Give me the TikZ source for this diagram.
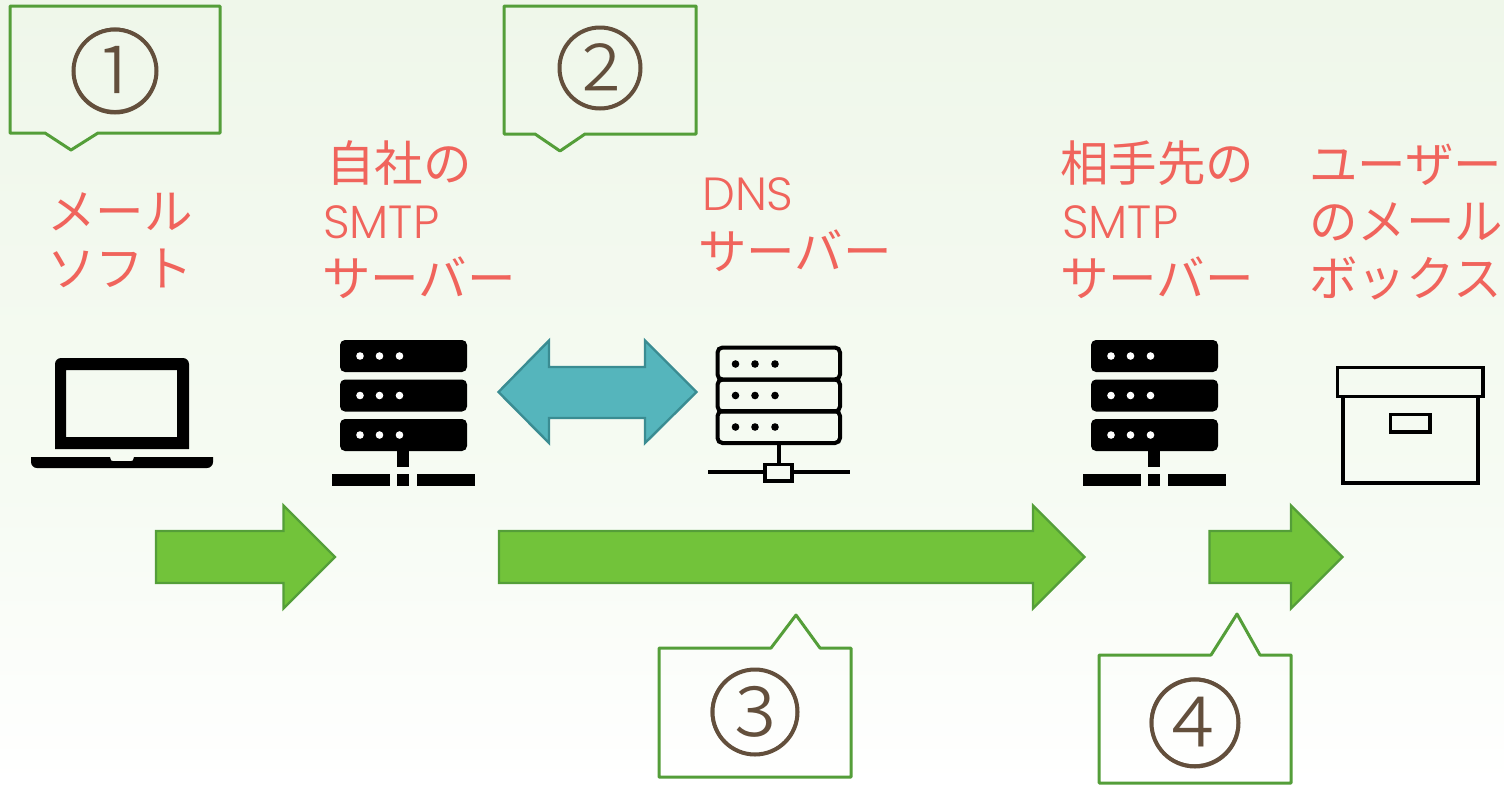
\documentclass[tikz,border=0pt]{standalone}
\usepackage{fontspec}
\setmainfont{Noto Sans CJK JP}
\newfontfamily\latinfont{Poppins Light}[]
\newfontfamily\numfont{Noto Sans CJK JP Light}
\definecolor{labelred}{HTML}{F0645C}
\definecolor{callgreen}{HTML}{549E39}
\definecolor{arrowgreen}{HTML}{72C33A}
\definecolor{arrowedge}{HTML}{549E39}
\definecolor{tealfill}{HTML}{55B5BC}
\definecolor{tealedge}{HTML}{3A8C92}
\definecolor{numbrown}{HTML}{634F3C}
\tikzset{
  jp/.style={anchor=base west,inner sep=0pt,text=labelred,font=\fontsize{48.5}{48.5}\selectfont},
  lat/.style={anchor=base west,inner sep=0pt,text=labelred,font=\latinfont\fontsize{46.5}{46.5}\selectfont},
  callout/.style={draw=callgreen,line width=3pt,line join=round},
  flow/.style={fill=arrowgreen,draw=arrowedge,line width=2.4pt,line join=miter},
  num/.style={inner sep=0pt,text=numbrown},
  ring/.style={draw=numbrown,line width=4pt},
  lineicon/.style={draw=black,line width=4pt}
}
\newcommand{\solidserver}[1]{%
\begin{scope}[shift={(#1,0)}]
 \foreach \yy in {340,379.5,419}{
  \fill[black,rounded corners=5pt] (340,\yy) rectangle (467,\yy+32);
  \foreach \xx in {360,379.5,399.5}{\fill[white] (\xx,\yy+16) circle[radius=3.8pt];}
 }
 \fill[black] (397,451) rectangle (409,467);
 \fill[black] (332,474) rectangle (390,486);
 \fill[black] (397,474) rectangle (409,486);
 \fill[black] (417,474) rectangle (475,486);
\end{scope}}
\begin{document}
\begin{tikzpicture}[x=1pt,y=-1pt]
\useasboundingbox (0,0) rectangle (1504,785);
\shade[top color={rgb,255:red,239;green,247;blue,234},bottom color={rgb,255:red,246;green,251;blue,243}] (0,0) rectangle (1504,490);
\shade[top color={rgb,255:red,246;green,251;blue,243},bottom color=white] (0,490) rectangle (1504,785);

% callouts
\draw[callout] (10,6)--(220,6)--(220,133)--(98,133)--(71,150)--(45,133)--(10,133)--cycle;
\draw[callout] (504,6)--(696,6)--(696,134)--(585,134)--(560,151)--(535,134)--(504,134)--cycle;
\draw[callout] (659,648)--(771,648)--(796,615)--(820,648)--(851,648)--(851,777)--(659,777)--cycle;
\draw[callout] (1099,655)--(1211,655)--(1237,614)--(1260,655)--(1291,655)--(1291,783)--(1099,783)--cycle;
\node[num,font=\numfont\fontsize{92}{92}\selectfont] (n1) at (115,71) {①};
\node[num,font=\numfont\fontsize{90}{90}\selectfont] (n2) at (600,68) {②};
\node[num,font=\numfont\fontsize{95}{95}\selectfont] (n3) at (755,712) {③};
\node[num,font=\numfont\fontsize{97}{97}\selectfont] (n4) at (1195,723) {④};
\draw[ring] (n1.center) circle[radius=41.5pt];
\draw[ring] (n2.center) circle[radius=40.5pt];
\draw[ring] (n3.center) circle[radius=42.5pt];
\draw[ring] (n4.center) circle[radius=43.5pt];

% labels
\node[jp] (a1) at (47,229) {メール};
\node[jp] (a2) at (47,286) {ソフト};
\node[jp] (b1) at (326,181) {自社の};
\node[lat] (b2) at (323,238) {SMTP};
\node[jp] (b3) at (322,296) {サーバー};
\node[lat] (c1) at (702,210) {DNS};
\node[jp] (c2) at (698,269) {サーバー};
\node[jp] (d1) at (1060,181) {相手先の};
\node[lat] (d2) at (1062,238) {SMTP};
\node[jp] (d3) at (1060,296) {サーバー};
\node[jp] (e1) at (1309,182) {ユーザー};
\node[jp] (e2) at (1309,239) {のメール};
\node[jp] (e3) at (1309,296) {ボックス};

% laptop
\fill[black,even odd rule] (55,449)--(55,364) .. controls (55,360.7) and (57.7,358) .. (61,358)--(183,358) .. controls (186.3,358) and (189,360.7) .. (189,364)--(189,449)--cycle (66,370) rectangle (177,437);
\fill[black] (31,457)--(110,457)--(111,460) .. controls (111,461) and (112,461) .. (113,461)--(131,461) .. controls (132,461) and (133,461) .. (133,460)--(134,457)--(213,457)--(213,462) .. controls (213,465.3) and (210.3,468) .. (207,468)--(37,468) .. controls (33.7,468) and (31,465.3) .. (31,462)--cycle;

% solid servers
\solidserver{0}
\solidserver{751}

% DNS server
\foreach \yy in {347.5,379.5,411}{
 \draw[lineicon,rounded corners=5pt] (717.5,\yy) rectangle (840,\yy+32);
}
\foreach \yy in {364,395.5,427}{
 \foreach \xx in {735.5,755,775}{\fill[black] (\xx,\yy) circle[radius=3.8pt];}
}
\draw[lineicon] (779,443)--(779,464);
\draw[lineicon] (708,472)--(765,472) (792,472)--(850,472);
\draw[black,line width=3.6pt] (765,464.5) rectangle (792,481);

% box
\draw[black,line width=3.4pt] (1343,397)--(1343,483)--(1478,483)--(1478,397);
\draw[black,line width=3.4pt] (1337.5,367.5) rectangle (1483,396.5);
\draw[black,line width=3.4pt] (1390.5,414.5) rectangle (1430,432);

% arrows
\draw[flow] (156,531)--(283.5,531)--(283.5,505.5)--(335,557)--(283.5,608.5)--(283.5,583)--(156,583)--cycle;
\draw[flow] (499,531)--(1033,531)--(1033,505.5)--(1084.5,557)--(1033,608.5)--(1033,583)--(499,583)--cycle;
\draw[flow] (1209.5,531)--(1291,531)--(1291,505.5)--(1342.5,557)--(1291,608.5)--(1291,583)--(1209.5,583)--cycle;
\draw[fill=tealfill,draw=tealedge,line width=2.4pt] (498.5,392)--(549,340.5)--(549,367)--(645,367)--(645,340.5)--(696.5,392)--(645,443)--(645,418)--(549,418)--(549,443)--cycle;
\end{tikzpicture}
\end{document}
